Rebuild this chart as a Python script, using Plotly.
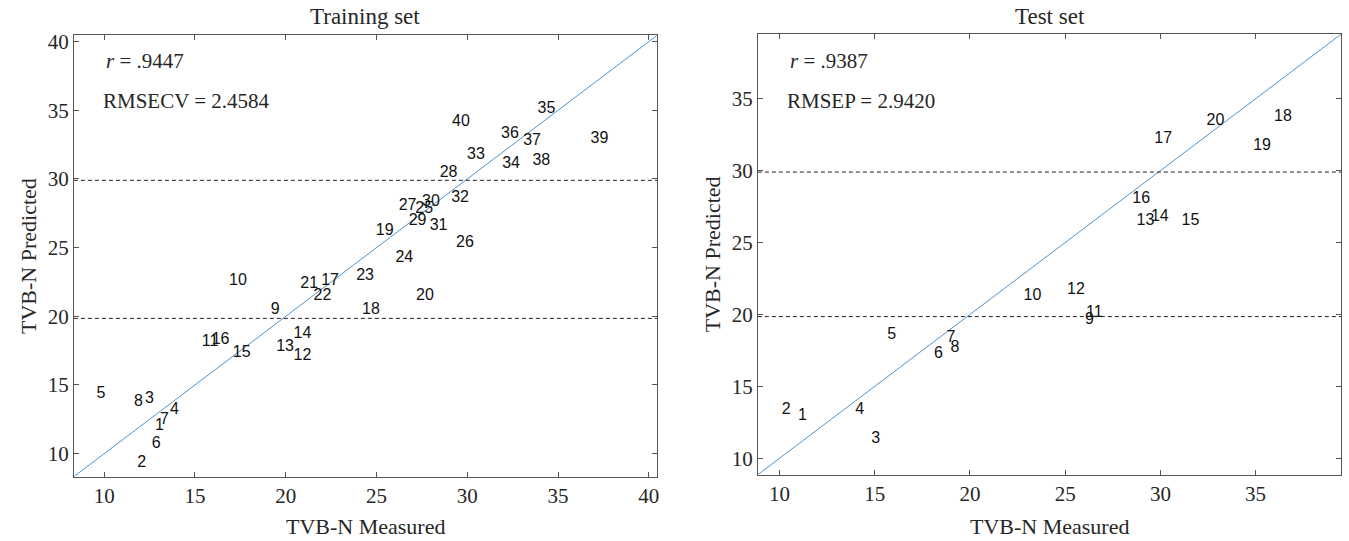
import plotly.graph_objects as go

# ---------------- data ----------------
train_ids = list(range(1, 41))
train_measured = [12.80, 11.82, 12.25, 13.63, 9.58, 12.62, 13.07, 11.64, 19.18, 16.88,
                  15.37, 20.43, 19.47, 20.43, 17.08, 15.92, 21.95, 24.20, 24.96, 27.18,
                  20.80, 21.53, 23.88, 26.04, 27.14, 29.38, 26.22, 28.48, 26.77, 27.51,
                  27.93, 29.11, 29.99, 31.92, 33.87, 31.86, 33.08, 33.59, 36.79, 29.16]
train_predicted = [12.01, 9.32, 14.01, 13.21, 14.34, 10.73, 12.44, 13.76, 20.43, 22.59,
                   18.14, 17.13, 17.78, 18.74, 17.30, 18.26, 22.59, 20.43, 26.20, 21.50,
                   22.35, 21.50, 22.95, 24.22, 27.81, 25.36, 28.00, 30.41, 26.92, 28.29,
                   26.56, 28.60, 31.73, 31.06, 35.10, 33.24, 32.74, 31.27, 32.93, 34.18]

test_ids = list(range(1, 21))
test_measured = [10.97, 10.12, 14.82, 13.98, 15.66, 18.11, 18.77, 18.98, 26.04, 22.81,
                 26.09, 25.10, 28.75, 29.50, 31.11, 28.52, 29.68, 35.97, 34.87, 32.42]
test_predicted = [12.93, 13.35, 11.36, 13.32, 18.60, 17.22, 18.37, 17.63, 19.59, 21.31,
                  20.09, 21.73, 26.48, 26.78, 26.52, 28.02, 32.22, 33.76, 31.69, 33.44]

limit_levels = [19.85, 29.9]          # dashed horizontal reference lines
train_range = [8.33, 40.45]
test_range = [8.86, 39.5]
train_ticks = [10, 15, 20, 25, 30, 35, 40]
test_ticks = [10, 15, 20, 25, 30, 35]

train_stats = ["<i>r</i> = .9447", "RMSECV = 2.4584"]
test_stats = ["<i>r</i> = .9387", "RMSEP = 2.9420"]

# ---------------- figure ----------------
W, H = 1349, 541
SERIF = "Liberation Serif, Times New Roman, serif"
SANS = "Liberation Sans, Arial, sans-serif"
AX_COLOR = "#555555"
TXT_COLOR = "#262626"
DIAG_COLOR = "#4f94cd"

fig = go.Figure()


def add_panel(xs, ys, ids, rng, xa, ya):
    # diagonal y = x across the whole axis
    fig.add_trace(go.Scatter(x=rng, y=rng, mode="lines", xaxis=xa, yaxis=ya,
                             line=dict(color=DIAG_COLOR, width=1), hoverinfo="skip",
                             showlegend=False))
    for lv in limit_levels:
        fig.add_trace(go.Scatter(x=rng, y=[lv, lv], mode="lines", xaxis=xa, yaxis=ya,
                                 line=dict(color="#222222", width=1, dash="4px,3px"),
                                 hoverinfo="skip", showlegend=False))
    fig.add_trace(go.Scatter(x=xs, y=ys, mode="text", text=[str(i) for i in ids],
                             textposition="middle right", xaxis=xa, yaxis=ya,
                             textfont=dict(family=SANS, size=16, color="#111111"),
                             showlegend=False, cliponaxis=False))


add_panel(train_measured, train_predicted, train_ids, train_range, "x", "y")
add_panel(test_measured, test_predicted, test_ids, test_range, "x2", "y2")

# pixel geometry of the two axes boxes
L1 = (74, 658, 30.7, 476)
L2 = (759, 1343.3, 29.3, 474)


def dom_x(b):
    return [b[0] / W, b[1] / W]


def dom_y(b):
    return [1 - b[3] / H, 1 - b[2] / H]


def axis(rng, ticks, dom, anchor):
    return dict(range=rng, domain=dom, anchor=anchor, tickvals=ticks,
                ticks="inside", ticklen=5, tickwidth=1, tickcolor=AX_COLOR,
                showline=True, linecolor=AX_COLOR, linewidth=1, mirror="ticks",
                showgrid=False, zeroline=False,
                tickfont=dict(family=SERIF, size=21, color=TXT_COLOR))


fig.update_layout(
    width=W, height=H,
    margin=dict(l=0, r=0, t=0, b=0),
    paper_bgcolor="white", plot_bgcolor="white",
    xaxis=axis(train_range, train_ticks, dom_x(L1), "y"),
    yaxis=axis(train_range, train_ticks, dom_y(L1), "x"),
    xaxis2=axis(test_range, test_ticks, dom_x(L2), "y2"),
    yaxis2=axis(test_range, test_ticks, dom_y(L2), "x2"),
)

ann = []
for box, title, stats in [(L1, "Training set", train_stats), (L2, "Test set", test_stats)]:
    cx = (box[0] + box[1]) / 2
    cy = (box[2] + box[3]) / 2
    ann.append(dict(text=title, x=cx / W, y=1 - 12 / H, xref="paper", yref="paper",
                    showarrow=False, xanchor="center", yanchor="middle",
                    font=dict(family=SERIF, size=23, color=TXT_COLOR)))
    ann.append(dict(text="TVB-N Measured", x=cx / W, y=1 - 526 / H, xref="paper",
                    yref="paper", showarrow=False, xanchor="center", yanchor="middle",
                    font=dict(family=SERIF, size=22, color=TXT_COLOR)))
    ann.append(dict(text="TVB-N Predicted", x=(box[0] - 46) / W, y=1 - cy / H,
                    xref="paper", yref="paper", showarrow=False, textangle=-90,
                    xanchor="center", yanchor="middle",
                    font=dict(family=SERIF, size=22, color=TXT_COLOR)))
    ann.append(dict(text=stats[0], x=(box[0] + 30) / W, y=1 - 57 / H, xref="paper",
                    yref="paper", showarrow=False, xanchor="left", yanchor="middle",
                    font=dict(family=SERIF, size=21, color=TXT_COLOR)))
    ann.append(dict(text=stats[1], x=(box[0] + 27) / W, y=1 - 97 / H, xref="paper",
                    yref="paper", showarrow=False, xanchor="left", yanchor="middle",
                    font=dict(family=SERIF, size=21, color=TXT_COLOR)))
fig.update_layout(annotations=ann)

fig.write_html("out.html", config={"displayModeBar": False},
               post_script="document.body.style.margin='0';")
